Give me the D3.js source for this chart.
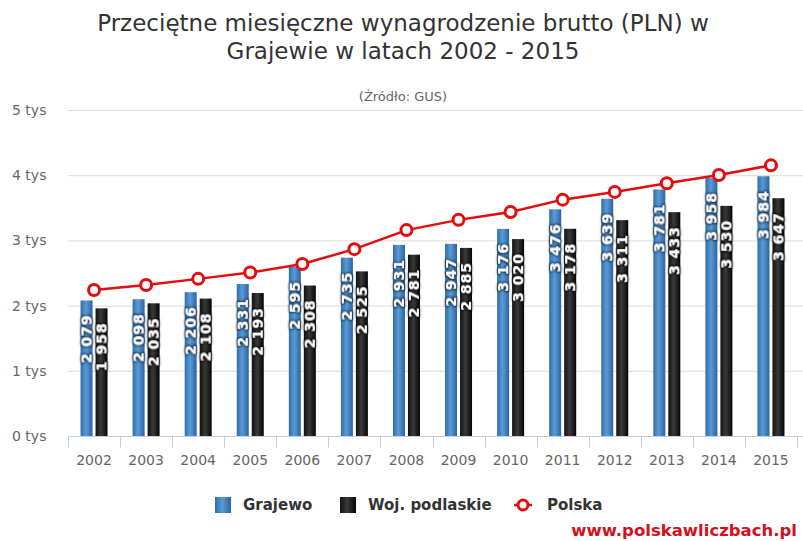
<!DOCTYPE html>
<meta charset="utf-8">
<script src="https://cdn.jsdelivr.net/npm/d3@7"></script>
<head>
<style>
    body { margin: 0; background: #fff; }
    text { font-family: "DejaVu Sans", Verdana, sans-serif; }
</style>
</head>
<body>
<div id="chart"></div>
<script>

    var years = ["2002","2003","2004","2005","2006","2007","2008","2009","2010","2011","2012","2013","2014","2015"];
    var grajewo = [2079, 2098, 2206, 2331, 2595, 2735, 2931, 2947, 3176, 3476, 3639, 3781, 3958, 3984];
    var podlaskie = [1958, 2035, 2108, 2193, 2308, 2525, 2781, 2885, 3020, 3178, 3311, 3433, 3530, 3647];
    var polska = [2240, 2315, 2410, 2507, 2637, 2866, 3158, 3315, 3435, 3625, 3744, 3877, 4004, 4151];
    var yTicks = [0, 1000, 2000, 3000, 4000, 5000];

    var width = 803, height = 541;
    var plotLeft = 68, plotRight = 797, plotTop = 110, plotBottom = 436;

    var svg = d3.select("#chart").append("svg")
        .attr("width", width)
        .attr("height", height);

    var defs = svg.append("defs");

    var blueGrad = defs.append("linearGradient")
        .attr("id", "blueGrad")
        .attr("x1", "0").attr("x2", "1").attr("y1", "0").attr("y2", "0");
    blueGrad.append("stop").attr("offset", "0%").attr("stop-color", "#2f6ea8");
    blueGrad.append("stop").attr("offset", "45%").attr("stop-color", "#5a9ad6");
    blueGrad.append("stop").attr("offset", "100%").attr("stop-color", "#2c64a0");

    var blackGrad = defs.append("linearGradient")
        .attr("id", "blackGrad")
        .attr("x1", "0").attr("x2", "1").attr("y1", "0").attr("y2", "0");
    blackGrad.append("stop").attr("offset", "0%").attr("stop-color", "#111");
    blackGrad.append("stop").attr("offset", "45%").attr("stop-color", "#3a3a3a");
    blackGrad.append("stop").attr("offset", "100%").attr("stop-color", "#050505");

    var shadow = defs.append("filter").attr("id", "halo")
        .attr("x", "-30%").attr("y", "-30%").attr("width", "160%").attr("height", "160%");
    shadow.append("feMorphology").attr("in", "SourceAlpha").attr("operator", "dilate").attr("radius", 0.6).attr("result", "d");
    shadow.append("feGaussianBlur").attr("in", "d").attr("stdDeviation", 1.3).attr("result", "b");
    shadow.append("feFlood").attr("flood-color", "#000").attr("flood-opacity", 0.7);
    shadow.append("feComposite").attr("in2", "b").attr("operator", "in").attr("result", "s");
    var merge = shadow.append("feMerge");
    merge.append("feMergeNode").attr("in", "s");
    merge.append("feMergeNode").attr("in", "SourceGraphic");

    var x = d3.scaleBand()
        .domain(years)
        .range([plotLeft, plotRight]);

    var y = d3.scaleLinear()
        .domain([0, 5000])
        .range([plotBottom, plotTop]);

    // title
    svg.append("text")
        .attr("x", 403).attr("y", 31)
        .attr("text-anchor", "middle")
        .style("font-size", "23px")
        .style("fill", "#333")
        .text("Przeciętne miesięczne wynagrodzenie brutto (PLN) w");
    svg.append("text")
        .attr("x", 403).attr("y", 59)
        .attr("text-anchor", "middle")
        .style("font-size", "23px")
        .style("fill", "#333")
        .text("Grajewie w latach 2002 - 2015");
    svg.append("text")
        .attr("x", 403).attr("y", 101)
        .attr("text-anchor", "middle")
        .style("font-size", "13px")
        .style("fill", "#666")
        .text("(Źródło: GUS)");

    // grid
    svg.selectAll(".grid")
        .data(yTicks.slice(1))
        .enter().append("line")
        .attr("class", "grid")
        .attr("x1", plotLeft).attr("x2", width)
        .attr("y1", function(d) { return y(d) + 0.5; })
        .attr("y2", function(d) { return y(d) + 0.5; })
        .style("stroke", "#dcdcdc");

    svg.selectAll(".ylab")
        .data(yTicks)
        .enter().append("text")
        .attr("class", "ylab")
        .attr("x", 12)
        .attr("y", function(d) { return y(d) + 5; })
        .style("font-size", "14px")
        .style("fill", "#666")
        .text(function(d) { return (d / 1000) + " tys"; });

    // x axis
    var xAxis = svg.append("g")
        .attr("transform", "translate(0," + (plotBottom + 0.5) + ")");
    xAxis.append("line")
        .attr("x1", plotLeft).attr("x2", width)
        .style("stroke", "#c0d0e0");
    xAxis.selectAll(".xtick")
        .data(years.concat(["end"]))
        .enter().append("line")
        .attr("class", "xtick")
        .attr("x1", function(d, i) { return Math.round(plotLeft + i * x.bandwidth()) + 0.5; })
        .attr("x2", function(d, i) { return Math.round(plotLeft + i * x.bandwidth()) + 0.5; })
        .attr("y1", 0).attr("y2", 11)
        .style("stroke", "#c0d0e0");
    xAxis.selectAll(".xlab")
        .data(years)
        .enter().append("text")
        .attr("class", "xlab")
        .attr("x", function(d) { return x(d) + x.bandwidth() / 2; })
        .attr("y", 28)
        .attr("text-anchor", "middle")
        .style("font-size", "14px")
        .style("fill", "#666")
        .text(function(d) { return d; });

    // bars
    var barW = 12;
    var series = [
        { name: "Grajewo", values: grajewo, fill: "url(#blueGrad)", dx: -13.5 },
        { name: "Woj. podlaskie", values: podlaskie, fill: "url(#blackGrad)", dx: 1.5 }
    ];

    function fmt(v) {
        var s = String(v);
        return s.length > 3 ? s.slice(0, s.length - 3) + " " + s.slice(-3) : s;
    }

    series.forEach(function(s) {
        var g = svg.append("g");
        g.selectAll("rect")
            .data(s.values)
            .enter().append("rect")
            .attr("x", function(d, i) { return x(years[i]) + x.bandwidth() / 2 + s.dx; })
            .attr("y", function(d) { return y(d); })
            .attr("width", barW)
            .attr("height", function(d) { return plotBottom - y(d); })
            .style("fill", s.fill);

        g.selectAll("text")
            .data(s.values)
            .enter().append("text")
            .attr("transform", function(d, i) {
                var cx = x(years[i]) + x.bandwidth() / 2 + s.dx + barW / 2 + 5;
                return "translate(" + cx + "," + (y(d) + 14) + ") rotate(-90)";
            })
            .attr("text-anchor", "end")
            .attr("filter", "url(#halo)")
            .style("font-size", "14px")
            .style("letter-spacing", "1px")
            .style("font-weight", "bold")
            .style("fill", "#fff")
            .text(function(d) { return fmt(d); });
    });

    // line
    var line = d3.line()
        .x(function(d, i) { return x(years[i]) + x.bandwidth() / 2; })
        .y(function(d) { return y(d); });

    svg.append("path")
        .datum(polska)
        .attr("d", line)
        .style("fill", "none")
        .style("stroke", "#e30d0d")
        .style("stroke-width", 2.5);

    svg.selectAll(".pt")
        .data(polska)
        .enter().append("circle")
        .attr("class", "pt")
        .attr("cx", function(d, i) { return x(years[i]) + x.bandwidth() / 2; })
        .attr("cy", function(d) { return y(d); })
        .attr("r", 5.5)
        .style("fill", "#fff")
        .style("stroke", "#e30d0d")
        .style("stroke-width", 3);

    // legend
    var legend = svg.append("g").attr("transform", "translate(0,505)");
    legend.append("rect").attr("x", 215).attr("y", -8).attr("width", 16).attr("height", 16)
        .style("fill", "url(#blueGrad)");
    legend.append("text").attr("x", 243).attr("y", 5)
        .style("font-size", "15px").style("font-weight", "bold").style("fill", "#333")
        .text(series[0].name);
    legend.append("rect").attr("x", 340).attr("y", -8).attr("width", 16).attr("height", 16)
        .style("fill", "url(#blackGrad)");
    legend.append("text").attr("x", 368).attr("y", 5)
        .style("font-size", "15px").style("font-weight", "bold").style("fill", "#333")
        .text(series[1].name);
    legend.append("line").attr("x1", 514).attr("x2", 532).attr("y1", 0).attr("y2", 0)
        .style("stroke", "#e30d0d").style("stroke-width", 2.5);
    legend.append("circle").attr("cx", 523).attr("cy", 0).attr("r", 5)
        .style("fill", "#fff").style("stroke", "#e30d0d").style("stroke-width", 3);
    legend.append("text").attr("x", 547).attr("y", 5)
        .style("font-size", "15px").style("font-weight", "bold").style("fill", "#333")
        .text("Polska");

    // watermark
    svg.append("text")
        .attr("x", 797).attr("y", 536)
        .attr("text-anchor", "end")
        .style("font-size", "16.5px")
        .style("font-weight", "bold")
        .style("fill", "#d6101a")
        .text("www.polskawliczbach.pl");

</script>
</body>
</html>
